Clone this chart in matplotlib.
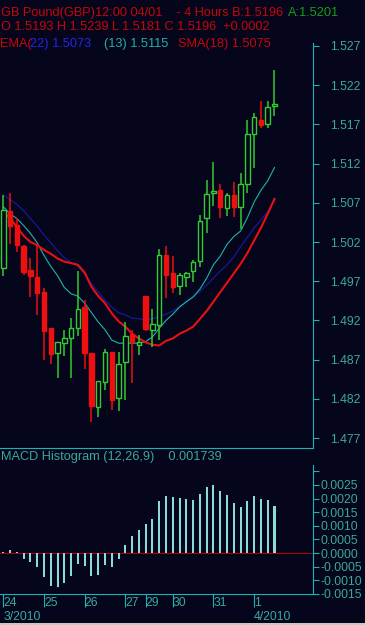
import numpy as np
import matplotlib
matplotlib.use("Agg")
import matplotlib.pyplot as plt
from matplotlib.patches import Rectangle

plt.rcParams['font.family'] = ['Liberation Sans', 'DejaVu Sans']

# 4-hour GBP candles, 24 Mar - 1 Apr 2010
open_ = [1.4987, 1.5059, 1.5042, 1.5015, 1.4984, 1.4975, 1.4956, 1.4910, 1.4878, 1.4891,
         1.4897, 1.4910, 1.4937, 1.4879, 1.4810, 1.4841, 1.4880, 1.4821, 1.4867, 1.4903,
         1.4889, 1.4951, 1.4908, 1.4914, 1.5003, 1.4980, 1.4964, 1.4975, 1.4983, 1.4996,
         1.5050, 1.5083, 1.5086, 1.5063, 1.5080, 1.5065, 1.5094, 1.5158, 1.5176, 1.5171,
         1.5193]
high = [1.5080, 1.5083, 1.5051, 1.5016, 1.5000, 1.5015, 1.4961, 1.4910, 1.4893, 1.4908,
        1.4923, 1.4983, 1.4946, 1.4879, 1.4843, 1.4883, 1.4880, 1.4880, 1.4918, 1.4908,
        1.4901, 1.4951, 1.4934, 1.5011, 1.5015, 1.5002, 1.4980, 1.4982, 1.4997, 1.5054,
        1.5099, 1.5122, 1.5094, 1.5083, 1.5097, 1.5108, 1.5176, 1.5185, 1.5200, 1.5200,
        1.5239]
low = [1.4977, 1.5018, 1.5007, 1.4978, 1.4950, 1.4927, 1.4870, 1.4864, 1.4847, 1.4875,
       1.4847, 1.4900, 1.4858, 1.4791, 1.4797, 1.4831, 1.4806, 1.4804, 1.4818, 1.4840,
       1.4876, 1.4906, 1.4886, 1.4895, 1.4948, 1.4955, 1.4952, 1.4962, 1.4969, 1.4988,
       1.5032, 1.5066, 1.5050, 1.5053, 1.5052, 1.5037, 1.5082, 1.5114, 1.5165, 1.5165,
       1.5181]
close = [1.5061, 1.5040, 1.5016, 1.4982, 1.4977, 1.4955, 1.4906, 1.4877, 1.4892, 1.4898,
         1.4910, 1.4935, 1.4878, 1.4811, 1.4843, 1.4880, 1.4818, 1.4864, 1.4900, 1.4893,
         1.4893, 1.4909, 1.4916, 1.5003, 1.4978, 1.4963, 1.4978, 1.4981, 1.4994, 1.5047,
         1.5081, 1.5085, 1.5065, 1.5080, 1.5065, 1.5094, 1.5158, 1.5180, 1.5169, 1.5192,
         1.5196]

ema22 = [1.5080, 1.5074, 1.5068, 1.5060, 1.5050, 1.5040, 1.5029, 1.5019, 1.5009, 1.5000,
         1.4994, 1.4989, 1.4979, 1.4967, 1.4956, 1.4946, 1.4937, 1.4930, 1.4927, 1.4923,
         1.4922, 1.4921, 1.4922, 1.4925, 1.4928, 1.4932, 1.4938, 1.4943, 1.4950, 1.4957,
         1.4965, 1.4974, 1.4983, 1.4991, 1.5001, 1.5014, 1.5026, 1.5038, 1.5048, 1.5059,
         1.5073]
ema13 = [1.5065, 1.5056, 1.5050, 1.5041, 1.5031, 1.5019, 1.5003, 1.4989, 1.4977, 1.4962,
         1.4954, 1.4951, 1.4942, 1.4930, 1.4918, 1.4908, 1.4895, 1.4891, 1.4891, 1.4891,
         1.4891, 1.4893, 1.4899, 1.4910, 1.4920, 1.4928, 1.4937, 1.4944, 1.4950, 1.4960,
         1.4974, 1.4991, 1.5002, 1.5017, 1.5027, 1.5034, 1.5051, 1.5071, 1.5086, 1.5098,
         1.5115]
sma18 = [1.5057, 1.5051, 1.5039, 1.5028, 1.5020, 1.5016, 1.5010, 1.5005, 1.4999, 1.4995,
         1.4993, 1.4991, 1.4981, 1.4963, 1.4951, 1.4942, 1.4929, 1.4919, 1.4912, 1.4903,
         1.4897, 1.4892, 1.4889, 1.4888, 1.4894, 1.4897, 1.4903, 1.4907, 1.4912, 1.4922,
         1.4932, 1.4944, 1.4956, 1.4968, 1.4980, 1.4992, 1.5006, 1.5022, 1.5038, 1.5056,
         1.5075]

macd_hist = [0.00002, 0.00012, 0.00005, -0.00021, -0.00034, -0.00053, -0.00089, -0.00123,
             -0.00125, -0.00110, -0.00086, -0.00040, -0.00049, -0.00086, -0.00080, -0.00045,
             -0.00053, -0.00021, 0.00031, 0.00061, 0.00083, 0.00107, 0.00126, 0.00190,
             0.00211, 0.00206, 0.00201, 0.00199, 0.00194, 0.00217, 0.00241, 0.00249,
             0.00227, 0.00213, 0.00183, 0.00170, 0.00192, 0.00208, 0.00199, 0.00194,
             0.001739]

day_pos = [0, 6, 12, 18, 21, 25, 31, 37]
day_labels = ['24', '25', '26', '27', '29', '30', '31', '1']
month_pos = [0, 37]
month_labels = ['3/2010', '4/2010']

price_ticks = [1.477, 1.482, 1.487, 1.492, 1.497, 1.502, 1.507, 1.512, 1.517, 1.522, 1.527]
macd_ticks = [0.003, 0.0025, 0.0020, 0.0015, 0.0010, 0.0005, 0.0, -0.0005, -0.0010, -0.0015]
macd_tick_labels = ['', '0.0025', '0.0020', '0.0015', '0.0010', '0.0005', '0.0000',
                    '-0.0005', '-0.0010', '-0.0015']

bg = '#05051c'
axis_col = '#1bb3b3'
lab_col = '#3aa89c'
up_col = '#33cc33'
down_col = '#ee1010'
hdr_red = '#c40808'

W, H = 365, 625
fig = plt.figure(figsize=(W / 100, H / 100), dpi=100, facecolor=bg)

def px_box(left, top, right, bottom):
    return [left / W, 1 - bottom / H, (right - left) / W, (bottom - top) / H]

# ---- price panel
ax = fig.add_axes(px_box(0, 43, 313, 448))
ax.set_facecolor(bg)
x = np.arange(len(close))
ax.plot(x, ema22, color='#1a1aa8', lw=0.8, zorder=2)
ax.plot(x, ema13, color='#1fb5a5', lw=0.8, zorder=2)
ax.plot(x, sma18, color='#e81010', lw=1.5, zorder=2)

body_w = 0.66
for i in range(len(close)):
    o, h, l, c = open_[i], high[i], low[i], close[i]
    up = c >= o
    col = up_col if up else down_col
    ax.vlines(i, l, h, color=col, lw=1.1, zorder=3)
    lo, hi = min(o, c), max(o, c)
    ax.add_patch(Rectangle((i - body_w / 2, lo), body_w, max(hi - lo, 0.00002),
                           facecolor=bg if up else col, edgecolor=col, lw=1.0, zorder=4))

ax.set_xlim(-0.487, 45.68)
ax.set_ylim(1.47573, 1.52738)
for s in ['top', 'left']:
    ax.spines[s].set_visible(False)
for s in ['right', 'bottom']:
    ax.spines[s].set_color(axis_col)
    ax.spines[s].set_linewidth(0.8)
ax.set_xticks([])
ax.yaxis.tick_right()
ax.set_yticks(price_ticks)
ax.set_yticklabels(['%.3f' % t for t in price_ticks])
ax.tick_params(axis='y', colors=axis_col, labelcolor=lab_col, length=4, width=0.8,
               pad=8.2, labelsize=8.8)

# ---- MACD panel
ax2 = fig.add_axes(px_box(0, 465, 313, 594))
ax2.set_facecolor(bg)
ax2.axhline(0, color='#b00000', lw=0.8, zorder=1)
ax2.bar(x, macd_hist, width=0.3, color='#8adcdc', zorder=2)
ax2.set_xlim(-0.487, 45.68)
ax2.set_ylim(-0.001507, 0.003235)
for s in ['top', 'left']:
    ax2.spines[s].set_visible(False)
for s in ['right', 'bottom']:
    ax2.spines[s].set_color(axis_col)
    ax2.spines[s].set_linewidth(0.8)
ax2.yaxis.tick_right()
ax2.set_yticks(macd_ticks)
ax2.set_yticklabels(macd_tick_labels)
ax2.tick_params(axis='y', colors=axis_col, labelcolor=lab_col, length=4, width=0.8,
                pad=1.4, labelsize=8.8)
ax2.set_xticks(day_pos)
ax2.set_xticklabels(day_labels)
ax2.tick_params(axis='x', colors=axis_col, labelcolor=lab_col, length=9, width=0.8,
                pad=-7.2, labelsize=8.8)
for lab in ax2.get_xticklabels():
    lab.set_horizontalalignment('left')
for p, t in zip(month_pos, month_labels):
    ax2.text(p, -0.18, t, transform=ax2.get_xaxis_transform(), color=lab_col,
             fontsize=8.8, ha='left', va='center')

# ---- header texts
def hdr(px, py, s, col):
    fig.text(px / W, 1 - py / H, s, color=col, fontsize=9.15, ha='left', va='center')

hdr(1, 12.7, 'GB Pound(GBP)12:00 04/01    - 4 Hours B:1.5196', hdr_red)
hdr(288, 12.7, 'A:1.5201', '#12a012')
hdr(1, 26.5, 'O 1.5193 H 1.5239 L 1.5181 C 1.5196  +0.0002', hdr_red)
hdr(0, 44, 'EMA(', hdr_red)
hdr(30, 44, '22) 1.5073', '#2626e0')
hdr(104, 44, '(13) 1.5115', '#20b0a8')
hdr(178, 44, 'SMA(18) 1.5075', hdr_red)
hdr(1, 457.3, 'MACD Histogram (12,26,9)    0.001739', lab_col)

# window border strip at the bottom
fig.patches.append(Rectangle((0, 0), 1, 2.5 / H, transform=fig.transFigure,
                             facecolor='#c8c8c8', edgecolor='none'))

fig.savefig('out.png', dpi=100, facecolor=bg)
